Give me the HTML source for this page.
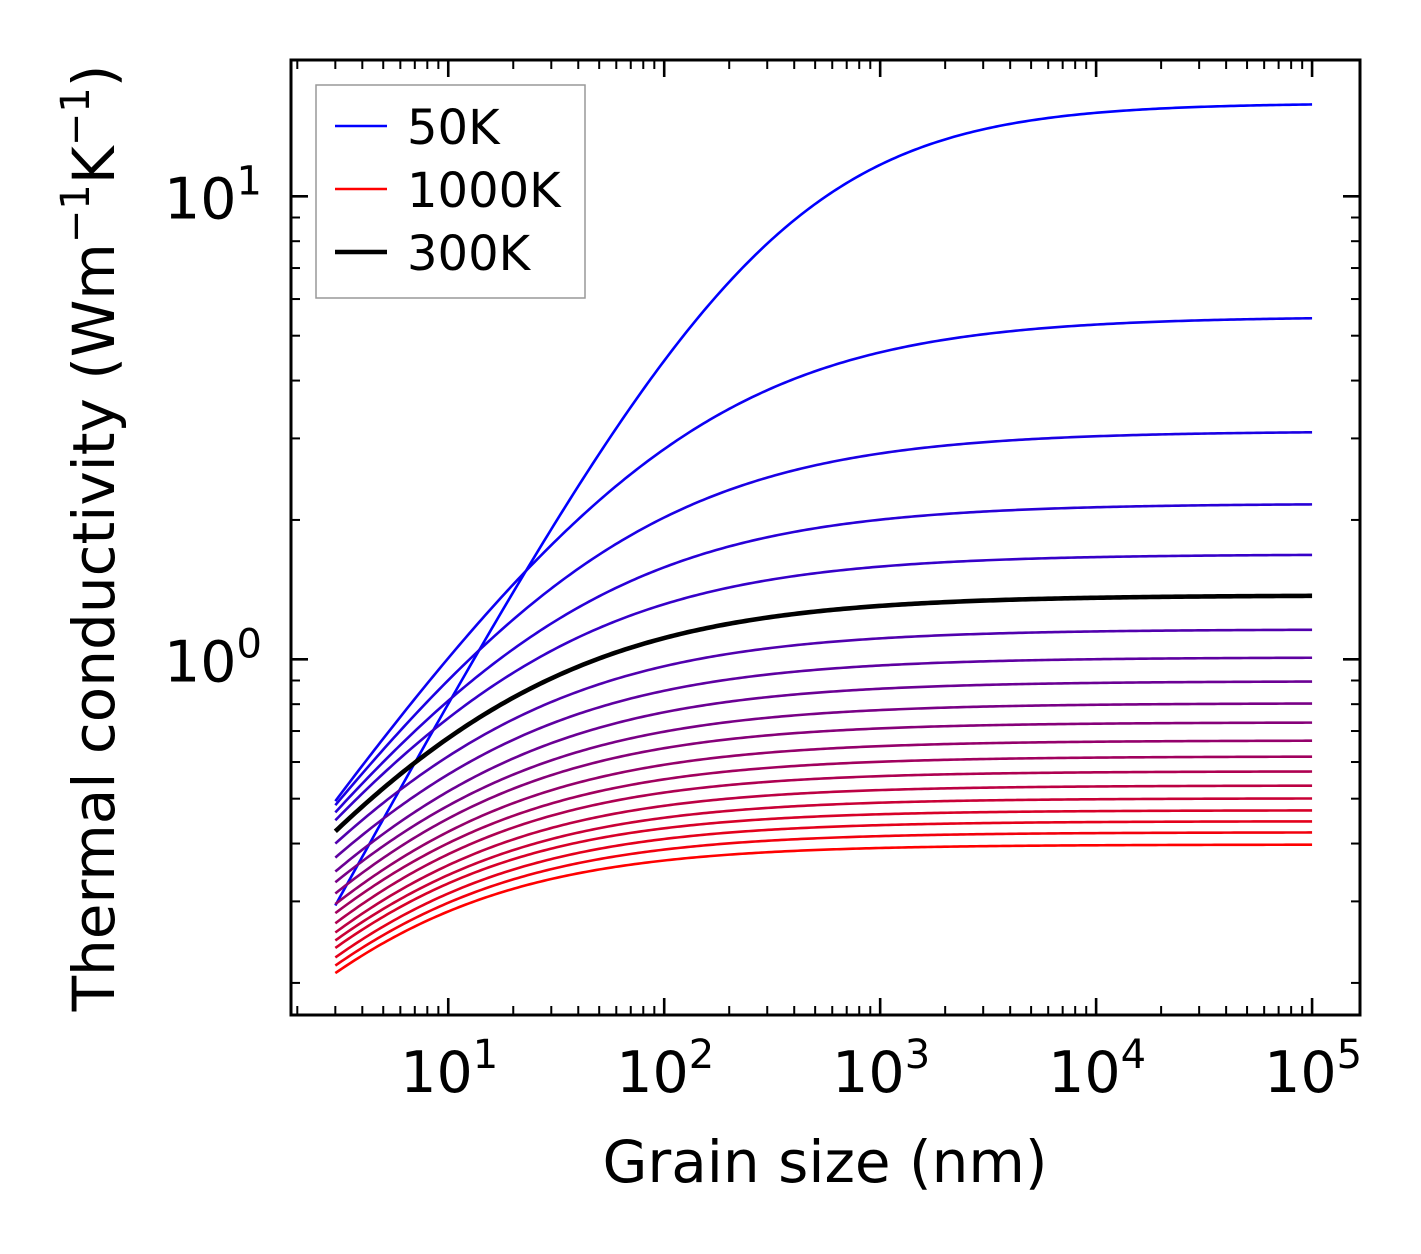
<!DOCTYPE html>
<html><head><meta charset="utf-8"><style>
html,body{margin:0;padding:0;background:#fff;}
svg{display:block;font-family:"DejaVu Sans","Liberation Sans",sans-serif;}
</style></head><body>
<svg id="chart" width="1421" height="1254" viewBox="0 0 1421 1254"></svg>
<script>
const temps=[50,100,150,200,250,300,350,400,450,500,550,600,650,700,750,800,850,900,950,1000];
const kBulk=[15.9,5.50,3.11,2.17,1.686,1.375,1.161,1.01,0.897,0.804,0.731,0.668,0.617,0.573,0.534,0.501,0.472,0.447,0.423,0.398];
const kAt3nm=[0.294,0.494,0.484,0.467,0.449,0.425,0.400,0.373,0.348,0.330,0.312,0.296,0.283,0.269,0.257,0.247,0.238,0.227,0.218,0.210];
const shapeExp=[0.86,0.68,0.66,0.65,0.65,0.64,0.64,0.64,0.64,0.64,0.65,0.65,0.65,0.66,0.66,0.66,0.67,0.67,0.67,0.68];
const xTickExps=[1,2,3,4,5];
const yTickExps=[0,1];
const highlightT=300;
const lMin=3, lMax=1e5;

const NS="http://www.w3.org/2000/svg";
const svg=document.getElementById('chart');
const X0=291,X1=1360,Y0=60,Y1=1015;
const xMinL=Math.log10(1.87), xMaxL=Math.log10(1.667e5);
const yMinL=Math.log10(0.1705), yMaxL=Math.log10(19.7);
function sx(v){return X0+(Math.log10(v)-xMinL)/(xMaxL-xMinL)*(X1-X0);}
function sy(v){return Y1-(Math.log10(v)-yMinL)/(yMaxL-yMinL)*(Y1-Y0);}
function mk(tag,attrs,parent){const e=document.createElementNS(NS,tag);for(const k in attrs)e.setAttribute(k,attrs[k]);(parent||svg).appendChild(e);return e;}

function curvePath(kb,k3,p){
  const c=(kb/k3-1); let d='';
  for(let i=0;i<=300;i++){const L=Math.pow(10,Math.log10(lMin)+i/300*(Math.log10(lMax)-Math.log10(lMin)));
    const k=kb/(1+c*Math.pow(lMin/L,p));d+=(i?'L':'M')+sx(L).toFixed(2)+' '+sy(k).toFixed(2);}
  return d;
}
const gC=mk('g',{});


temps.forEach((T,i)=>{
  if(T===highlightT)return;
  const t=(T-50)/950;
  const col='rgb('+Math.round(255*t)+',0,'+Math.round(255*(1-t))+')';
  const p=mk('path',{d:curvePath(kBulk[i],kAt3nm[i],shapeExp[i]),fill:'none',stroke:col,'stroke-width':2.6},gC);
  
  
});
const hi=temps.indexOf(highlightT);
const pb=mk('path',{d:curvePath(kBulk[hi],kAt3nm[hi],shapeExp[hi]),fill:'none',stroke:'#000','stroke-width':4.6},gC);



const gT=mk('g',{stroke:'#000'});


for(let e=0;e<=5;e++)for(let m=1;m<10;m++){const v=m*Math.pow(10,e);const x=sx(v);if(x<X0+2||x>X1-2)continue;
  const len=m===1?17:9,w=m===1?2.6:2;
  mk('line',{x1:x,y1:Y1,x2:x,y2:Y1-len,'stroke-width':w},gT);
  mk('line',{x1:x,y1:Y0,x2:x,y2:Y0+len,'stroke-width':w},gT);}
for(let e=-1;e<=1;e++)for(let m=1;m<10;m++){const v=m*Math.pow(10,e);const y=sy(v);if(y<Y0+2||y>Y1-2)continue;
  const len=m===1?17:9,w=m===1?2.6:2;
  mk('line',{x1:X0,y1:y,x2:X0+len,y2:y,'stroke-width':w},gT);
  mk('line',{x1:X1,y1:y,x2:X1-len,y2:y,'stroke-width':w},gT);}
const fr=mk('rect',{x:X0,y:Y0,width:X1-X0,height:Y1-Y0,fill:'none',stroke:'#000','stroke-width':3});



xTickExps.forEach(e=>{
  const t=mk('text',{x:sx(Math.pow(10,e))+1,y:1092,'font-size':57,'text-anchor':'middle',fill:'#000'});
  
  
  t.innerHTML='10<tspan dy="-24" font-size="40">'+e+'</tspan>';
});
yTickExps.forEach(e=>{
  const t=mk('text',{x:262,y:sy(Math.pow(10,e))+22,'font-size':57,'text-anchor':'end',fill:'#000'});
  
  
  t.innerHTML='10<tspan dy="-24" font-size="40">'+e+'</tspan>';
});
</script>
<svg style="position:absolute;left:0;top:0" width="1421" height="1254">
<text x="825" y="1182" font-size="58" text-anchor="middle" font-family="DejaVu Sans, Liberation Sans, sans-serif">Grain size (nm)</text>
<text transform="translate(114,538) rotate(-90)" font-size="58" text-anchor="middle" font-family="DejaVu Sans, Liberation Sans, sans-serif">Thermal conductivity (Wm<tspan dy="-25" font-size="40">−1</tspan><tspan dy="25">K</tspan><tspan dy="-25" font-size="40">−1</tspan><tspan dy="25">)</tspan></text>
<g font-family="DejaVu Sans, Liberation Sans, sans-serif">
<rect x="316" y="85" width="269" height="213" fill="#fff" stroke="#999" stroke-width="1.5"/>
<line x1="335" y1="126" x2="387" y2="126" stroke="#0000ff" stroke-width="2.6"/>
<text x="407" y="144" font-size="48">50K</text>
<line x1="335" y1="189" x2="387" y2="189" stroke="#ff0000" stroke-width="2.6"/>
<text x="407" y="207" font-size="48">1000K</text>
<line x1="335" y1="252" x2="387" y2="252" stroke="#000" stroke-width="4.6"/>
<text x="407" y="270" font-size="48">300K</text>
</g>
</svg>
</body></html>
